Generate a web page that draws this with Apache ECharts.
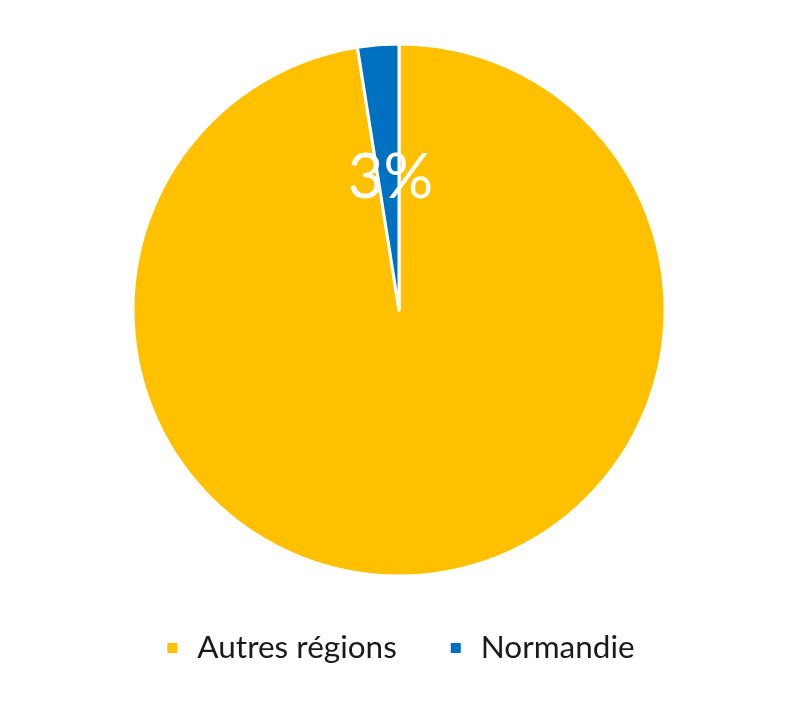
<!DOCTYPE html>
<html>
<head>
<meta charset="utf-8">
<script src="https://cdn.jsdelivr.net/npm/echarts@6/dist/echarts.min.js"></script>
<style>html,body{margin:0;padding:0;background:#fff;}#c{width:800px;height:702px;}</style>
</head>
<body>
<div id="c"></div>
<script>
const categories = ["Autres régions", "Normandie"];
const values = [97.5, 2.5];
const colors = ["#FFC000", "#0070C0"];
const labelTexts = ["", "3%"];

const chart = echarts.init(document.getElementById('c'), null, {renderer: 'canvas'});
chart.setOption({
  animation: false,
  color: colors,
  legend: {
    data: categories,
    bottom: 33,
    left: 'center',
    icon: 'rect',
    itemWidth: 12,
    itemHeight: 12,
    itemGap: 52,
    textStyle: {fontFamily: 'Lato', fontSize: 31.5, color: '#1a1a1a', padding: [0, 0, 0, 14]}
  },
  series: [{
    type: 'pie',
    center: [399, 310],
    radius: [0, 266],
    startAngle: 90,
    clockwise: true,
    itemStyle: {borderColor: '#fff', borderWidth: 3},
    label: {
      show: true,
      position: 'inside',
      color: '#fff',
      fontFamily: 'Lato',
      fontSize: 62,
      offset: [2, 4],
      formatter: p => labelTexts[p.dataIndex]
    },
    labelLine: {show: false},
    emphasis: {disabled: true},
    data: categories.map((c, i) => ({name: c, value: values[i]}))
  }]
});
</script>
</body>
</html>
